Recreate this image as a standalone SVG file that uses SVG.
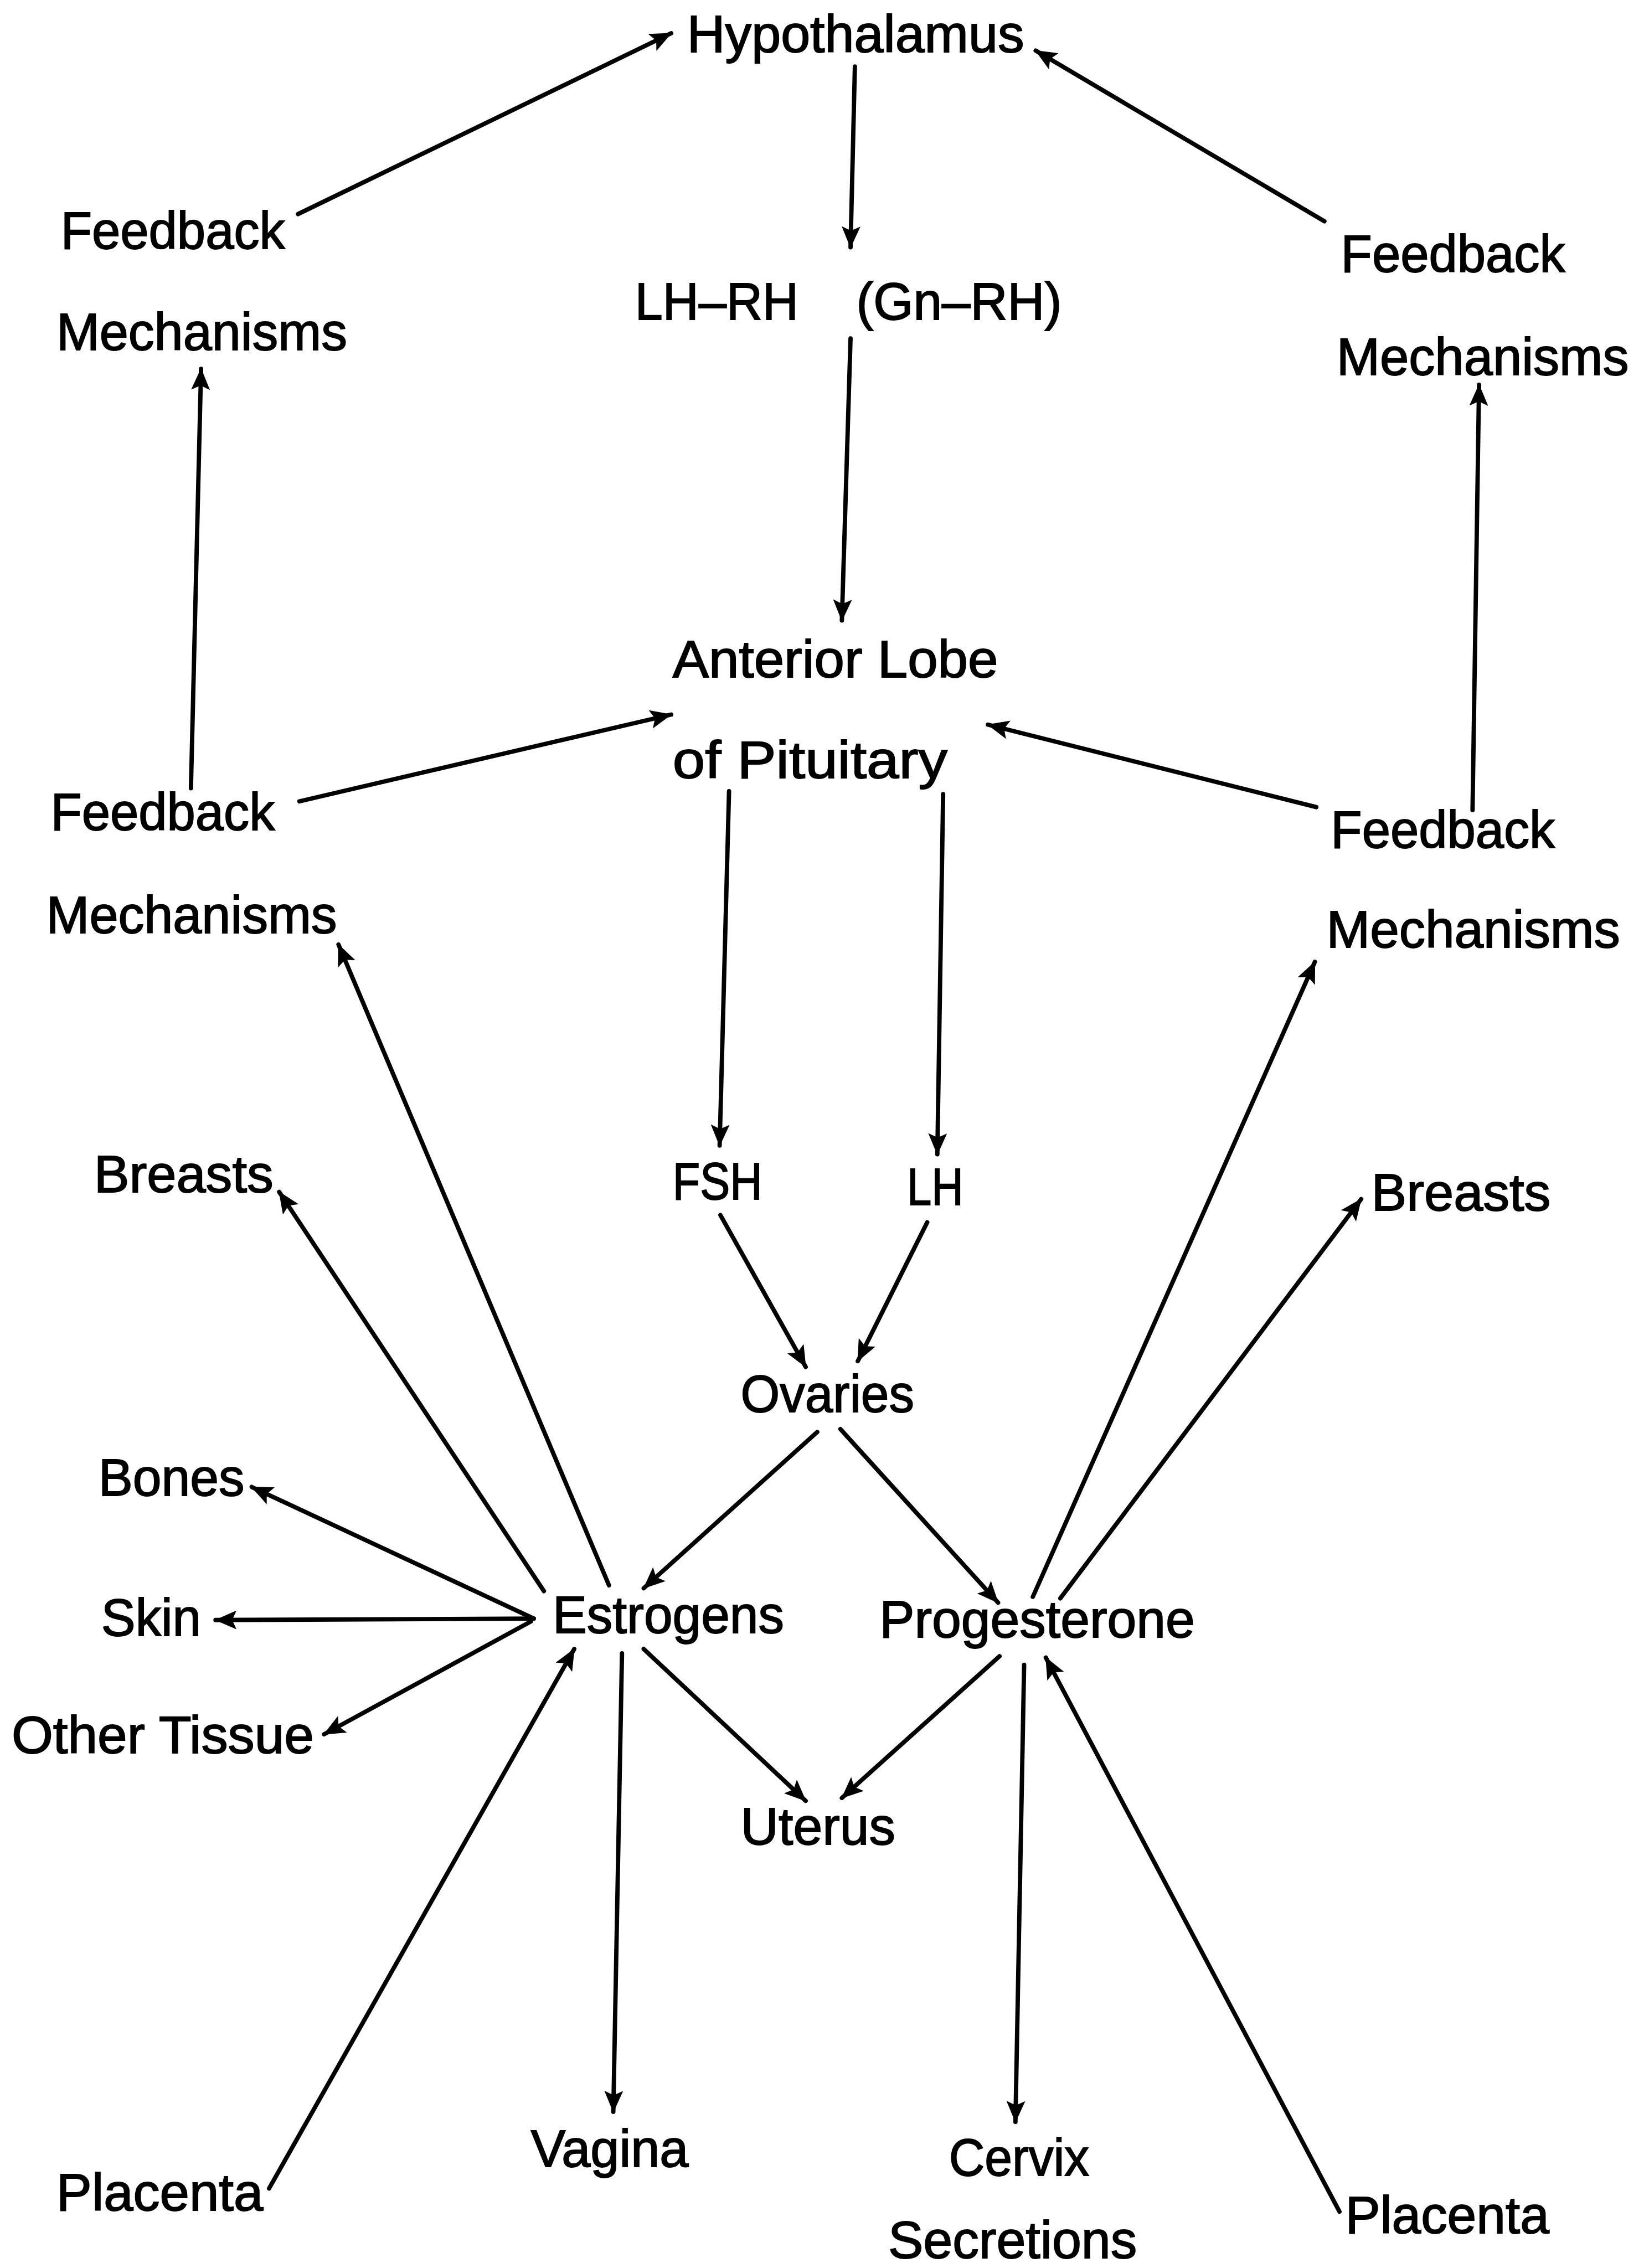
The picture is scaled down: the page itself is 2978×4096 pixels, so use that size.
<svg xmlns="http://www.w3.org/2000/svg" width="2978" height="4096" viewBox="0 0 2978 4096">
<style>
.t{font-family:"Liberation Sans",Arial,sans-serif;font-size:36px;fill:#000;stroke:#000;stroke-width:0.7px}
.c line{stroke:#000;stroke-width:3;stroke-linecap:round;marker-end:url(#ah)}
</style>
<defs>
<marker id="ah" viewBox="0 0 15 13" refX="14.5" refY="6.5" markerWidth="15" markerHeight="13" orient="auto" markerUnits="userSpaceOnUse">
<path d="M0,0 L15,6.5 L0,13 L3,6.5 z" fill="#000"/>
</marker>
</defs>
<rect width="2978" height="4096" fill="#fff"/>
<g transform="scale(2.6123)">
<g class="c" id="connectors">
<line x1="206" y1="148" x2="464" y2="23"/>
<line x1="915.6" y1="153" x2="716" y2="35"/>
<line x1="591" y1="46" x2="588" y2="171"/>
<line x1="588" y1="234" x2="582" y2="429"/>
<line x1="132" y1="545" x2="139" y2="255"/>
<line x1="1018" y1="560" x2="1022.5" y2="266"/>
<line x1="207" y1="554" x2="464" y2="494"/>
<line x1="910" y1="558" x2="683" y2="501"/>
<line x1="504" y1="547" x2="497.5" y2="792"/>
<line x1="652" y1="549" x2="648" y2="798"/>
<line x1="498" y1="840" x2="557" y2="945"/>
<line x1="641" y1="845" x2="593" y2="941"/>
<line x1="565" y1="990" x2="445" y2="1098"/>
<line x1="581" y1="988" x2="690" y2="1108"/>
<line x1="421" y1="1096" x2="234" y2="653"/>
<line x1="376" y1="1100" x2="193" y2="824"/>
<line x1="369" y1="1119" x2="174" y2="1028"/>
<line x1="369" y1="1119" x2="149" y2="1120"/>
<line x1="367" y1="1121" x2="224" y2="1199"/>
<line x1="445" y1="1140" x2="557" y2="1245"/>
<line x1="430" y1="1143" x2="424" y2="1460"/>
<line x1="186" y1="1513" x2="397" y2="1140"/>
<line x1="714" y1="1104" x2="909" y2="665"/>
<line x1="733" y1="1105" x2="941" y2="829"/>
<line x1="691" y1="1145" x2="582" y2="1243"/>
<line x1="708" y1="1151" x2="702" y2="1467"/>
<line x1="926" y1="1529" x2="723" y2="1146"/>
</g>
<g id="hypothalamus"><text class="t" x="475" y="36" textLength="233" lengthAdjust="spacingAndGlyphs">Hypothalamus</text></g>
<g id="feedback-tl"><text class="t" x="42" y="172" textLength="155" lengthAdjust="spacingAndGlyphs">Feedback</text><text class="t" x="39" y="242" textLength="201" lengthAdjust="spacingAndGlyphs">Mechanisms</text></g>
<g id="lhrh"><text class="t" x="439" y="221" textLength="113" lengthAdjust="spacingAndGlyphs">LH–RH</text><text class="t" x="592" y="221" textLength="142" lengthAdjust="spacingAndGlyphs">(Gn–RH)</text></g>
<g id="feedback-tr"><text class="t" x="927" y="188" textLength="155" lengthAdjust="spacingAndGlyphs">Feedback</text><text class="t" x="924" y="259" textLength="202" lengthAdjust="spacingAndGlyphs">Mechanisms</text></g>
<g id="pituitary"><text class="t" x="465" y="468" textLength="225" lengthAdjust="spacingAndGlyphs">Anterior Lobe</text><text class="t" x="465" y="538" textLength="190" lengthAdjust="spacingAndGlyphs">of Pituitary</text></g>
<g id="feedback-ml"><text class="t" x="35" y="574" textLength="155" lengthAdjust="spacingAndGlyphs">Feedback</text><text class="t" x="32" y="645" textLength="201" lengthAdjust="spacingAndGlyphs">Mechanisms</text></g>
<g id="feedback-mr"><text class="t" x="920" y="586" textLength="155" lengthAdjust="spacingAndGlyphs">Feedback</text><text class="t" x="917" y="655" textLength="203" lengthAdjust="spacingAndGlyphs">Mechanisms</text></g>
<g id="breasts-l"><text class="t" x="65" y="824" textLength="124" lengthAdjust="spacingAndGlyphs">Breasts</text></g>
<g id="fsh"><text class="t" x="465" y="829" textLength="62" lengthAdjust="spacingAndGlyphs">FSH</text></g>
<g id="lh"><text class="t" x="627" y="833" textLength="39" lengthAdjust="spacingAndGlyphs">LH</text></g>
<g id="breasts-r"><text class="t" x="948" y="837" textLength="124" lengthAdjust="spacingAndGlyphs">Breasts</text></g>
<g id="ovaries"><text class="t" x="512" y="976" textLength="120" lengthAdjust="spacingAndGlyphs">Ovaries</text></g>
<g id="bones"><text class="t" x="68" y="1034" textLength="101" lengthAdjust="spacingAndGlyphs">Bones</text></g>
<g id="skin"><text class="t" x="70" y="1131" textLength="69" lengthAdjust="spacingAndGlyphs">Skin</text></g>
<g id="estrogens"><text class="t" x="382" y="1129" textLength="160" lengthAdjust="spacingAndGlyphs">Estrogens</text></g>
<g id="progesterone"><text class="t" x="608" y="1132" textLength="218" lengthAdjust="spacingAndGlyphs">Progesterone</text></g>
<g id="other-tissue"><text class="t" x="8" y="1212" textLength="209" lengthAdjust="spacingAndGlyphs">Other Tissue</text></g>
<g id="uterus"><text class="t" x="512" y="1275" textLength="107" lengthAdjust="spacingAndGlyphs">Uterus</text></g>
<g id="vagina"><text class="t" x="367" y="1498" textLength="109" lengthAdjust="spacingAndGlyphs">Vagina</text></g>
<g id="cervix"><text class="t" x="656" y="1504" textLength="97" lengthAdjust="spacingAndGlyphs">Cervix</text><text class="t" x="614" y="1561" textLength="172" lengthAdjust="spacingAndGlyphs">Secretions</text></g>
<g id="placenta-l"><text class="t" x="39" y="1528" textLength="143" lengthAdjust="spacingAndGlyphs">Placenta</text></g>
<g id="placenta-r"><text class="t" x="930" y="1544" textLength="141" lengthAdjust="spacingAndGlyphs">Placenta</text></g>
</g>
</svg>
